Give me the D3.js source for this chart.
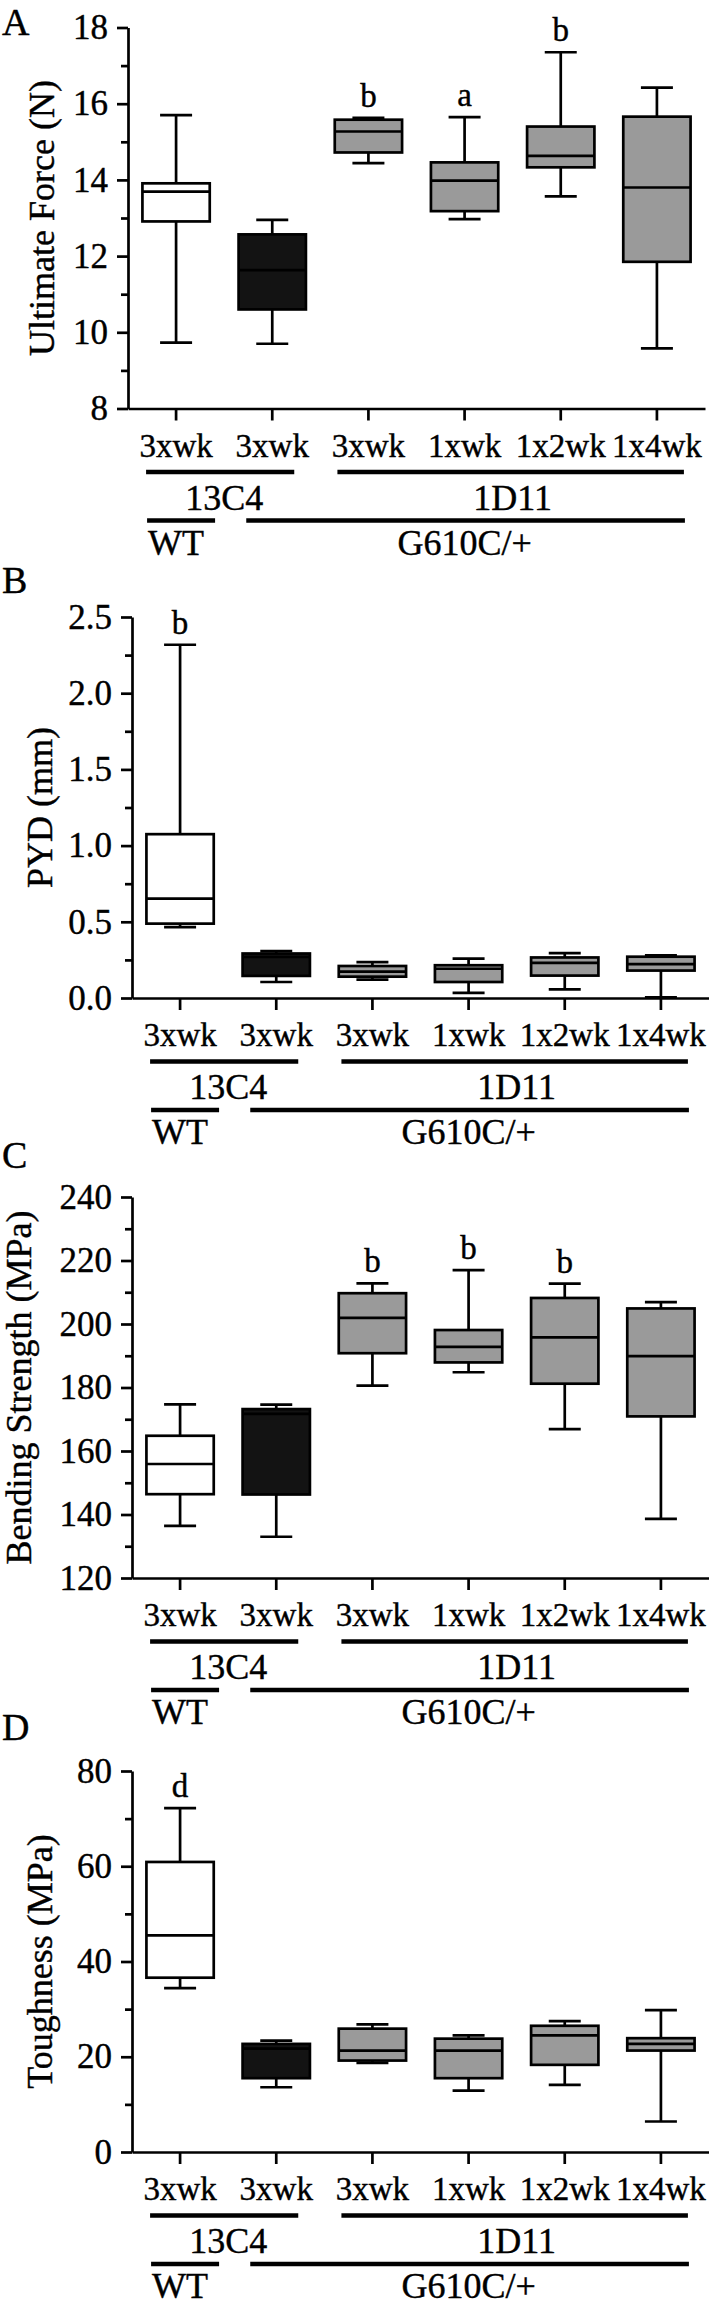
<!DOCTYPE html>
<html>
<head>
<meta charset="utf-8">
<script src="https://cdn.jsdelivr.net/npm/d3@7"></script>
<style>
  body { margin: 0; background: #fff; }
  svg { display: block; }
  svg text { stroke: #000; stroke-width: 0.4px; }
</style>
</head>
<body>
<svg id="chart" width="709" height="2308"></svg>
<script>
"use strict";
// groups along the x axis
const categories = ["3xwk", "3xwk", "3xwk", "1xwk", "1x2wk", "1x4wk"];
const antibody = ["13C4", "13C4", "1D11", "1D11", "1D11", "1D11"];
const genotype = ["WT", "G610C/+", "G610C/+", "G610C/+", "G610C/+", "G610C/+"];

// box stats per group: [min, q1, median, q3, max]
const forceStats = [
  [9.73, 12.91, 13.69, 13.91, 15.70],
  [9.70, 10.60, 11.63, 12.57, 12.95],
  [14.44, 14.72, 15.27, 15.58, 15.63],
  [12.97, 13.18, 13.98, 14.46, 15.65],
  [13.57, 14.33, 14.63, 15.40, 17.35],
  [9.58, 11.85, 13.80, 15.66, 16.42]
];
const forceLetters = ["", "", "b", "a", "b", ""];
const forceTicks = [8, 10, 12, 14, 16, 18];
const forceMinor = [9, 11, 13, 15, 17];

const pydStats = [
  [0.465, 0.488, 0.652, 1.075, 2.318],
  [0.105, 0.145, 0.269, 0.292, 0.308],
  [0.121, 0.140, 0.173, 0.210, 0.236],
  [0.033, 0.105, 0.192, 0.215, 0.259],
  [0.056, 0.147, 0.231, 0.266, 0.294],
  [0.005, 0.180, 0.222, 0.271, 0.280]
];
const pydLetters = ["b", "", "", "", "", ""];
const pydTicks = [0, 0.5, 1.0, 1.5, 2.0, 2.5];
const pydMinor = [0.25, 0.75, 1.25, 1.75, 2.25];

const strengthStats = [
  [136.4, 146.4, 155.9, 164.8, 174.7],
  [133.0, 146.3, 171.7, 173.2, 174.6],
  [180.6, 190.8, 201.9, 209.7, 212.8],
  [184.8, 187.9, 192.8, 198.1, 217.0],
  [166.9, 181.2, 195.8, 208.2, 212.7],
  [138.6, 170.9, 189.9, 204.9, 206.9]
];
const strengthLetters = ["", "", "b", "b", "b", ""];
const strengthTicks = [120, 140, 160, 180, 200, 220, 240];
const strengthMinor = [130, 150, 170, 190, 210, 230];

const toughStats = [
  [34.4, 36.6, 45.5, 60.9, 72.2],
  [13.6, 15.5, 21.7, 22.7, 23.4],
  [18.7, 19.2, 21.3, 25.9, 26.8],
  [12.9, 15.5, 21.3, 23.8, 24.5],
  [14.1, 18.3, 24.5, 26.5, 27.5],
  [6.4, 21.3, 22.7, 23.9, 29.8]
];
const toughLetters = ["d", "", "", "", "", ""];
const toughTicks = [0, 20, 40, 60, 80];
const toughMinor = [10, 30, 50, 70];

const FONT = "'Liberation Serif', 'Times New Roman', Times, serif";
const plotH = 381;
const LW = 2.7;

const panels = [
  { label: "A", title: "Ultimate Force (N)", stats: forceStats, letters: forceLetters,
    ticks: forceTicks, minor: forceMinor, fmt: d3.format("d"),
    top: 27.5, dx: -4, titleX: 54, labelY: 35 },
  { label: "B", title: "PYD (mm)", stats: pydStats, letters: pydLetters,
    ticks: pydTicks, minor: pydMinor, fmt: d3.format(".1f"),
    top: 617, dx: 0, titleX: 52, labelY: 593 },
  { label: "C", title: "Bending Strength (MPa)", stats: strengthStats, letters: strengthLetters,
    ticks: strengthTicks, minor: strengthMinor, fmt: d3.format("d"),
    top: 1197, dx: 0, titleX: 31, labelY: 1168 },
  { label: "D", title: "Toughness (MPa)", stats: toughStats, letters: toughLetters,
    ticks: toughTicks, minor: toughMinor, fmt: d3.format("d"),
    top: 1771, dx: 0, titleX: 52, labelY: 1740 }
];

const svg = d3.select("#chart");

function boxFill(i) {
  if (genotype[i] === "WT") return "#ffffff";
  if (antibody[i] === "13C4") return "#131313";
  return "#9a9a9a";
}

// runs of equal neighbours -> [{label, from, to}]
function runs(arr) {
  const out = [];
  arr.forEach((v, i) => {
    const last = out[out.length - 1];
    if (last && last.label === v) last.to = i;
    else out.push({ label: v, from: i, to: i });
  });
  return out;
}

function drawPanel(p) {
  const left = 132 + p.dx, right = 709 + p.dx;
  const y = d3.scaleLinear()
    .domain([p.ticks[0], p.ticks[p.ticks.length - 1]])
    .range([p.top + plotH, p.top]);
  const x = d3.scaleBand()
    .domain(d3.range(categories.length))
    .range([left, right])
    .paddingInner(0.3)
    .paddingOuter(0.15);
  const base = y.range()[0];
  const g = svg.append("g");

  // panel letter
  g.append("text")
    .attr("x", 2).attr("y", p.labelY)
    .attr("font-family", FONT).attr("font-size", 38)
    .text(p.label);

  // y axis title
  g.append("text")
    .attr("transform", `translate(${p.titleX},${(p.top + base) / 2}) rotate(-90)`)
    .attr("text-anchor", "middle")
    .attr("font-family", FONT).attr("font-size", 36)
    .text(p.title);

  // minor ticks
  g.append("g")
    .attr("transform", `translate(${left},0)`)
    .call(d3.axisLeft(y).tickValues(p.minor).tickFormat("").tickSize(7).tickSizeOuter(0))
    .call(a => a.select(".domain").remove())
    .call(a => a.selectAll("line").attr("stroke-width", LW));

  // y axis
  g.append("g")
    .attr("transform", `translate(${left},0)`)
    .call(d3.axisLeft(y).tickValues(p.ticks).tickFormat(p.fmt).tickSize(11).tickPadding(9).tickSizeOuter(0))
    .call(a => a.select(".domain").attr("stroke-width", LW))
    .call(a => a.selectAll("line").attr("stroke-width", LW))
    .call(a => a.selectAll("text")
      .attr("font-family", FONT).attr("font-size", 35).attr("fill", "#000"));

  // x axis
  g.append("g")
    .attr("transform", `translate(0,${base})`)
    .call(d3.axisBottom(x).tickFormat(i => categories[i]).tickSize(12).tickSizeOuter(0))
    .call(a => a.select(".domain").attr("stroke-width", LW))
    .call(a => a.selectAll("line").attr("stroke-width", LW))
    .call(a => a.selectAll("text")
      .attr("y", 48).attr("dy", 0)
      .attr("font-family", FONT).attr("font-size", 33).attr("fill", "#000"));

  // boxes
  const bw = x.bandwidth();
  const capW = 32;
  const boxes = g.selectAll(".box").data(p.stats).join("g").attr("class", "box");
  boxes.each(function (d, i) {
    const bx = d3.select(this);
    const cx = x(i) + bw / 2;
    const [mn, q1, med, q3, mx] = d;
    // whiskers
    bx.append("line").attr("x1", cx).attr("x2", cx).attr("y1", y(mx)).attr("y2", y(q3));
    bx.append("line").attr("x1", cx).attr("x2", cx).attr("y1", y(q1)).attr("y2", y(mn));
    bx.append("line").attr("x1", cx - capW / 2).attr("x2", cx + capW / 2).attr("y1", y(mx)).attr("y2", y(mx));
    bx.append("line").attr("x1", cx - capW / 2).attr("x2", cx + capW / 2).attr("y1", y(mn)).attr("y2", y(mn));
    bx.append("rect")
      .attr("x", x(i)).attr("width", bw)
      .attr("y", y(q3)).attr("height", y(q1) - y(q3))
      .attr("fill", boxFill(i));
    bx.append("line").attr("x1", x(i)).attr("x2", x(i) + bw).attr("y1", y(med)).attr("y2", y(med));
    bx.selectAll("line, rect").attr("stroke", "#000").attr("stroke-width", LW);
    if (p.letters[i]) {
      bx.append("text")
        .attr("x", cx).attr("y", y(mx) - 11)
        .attr("text-anchor", "middle")
        .attr("font-family", FONT).attr("font-size", 33)
        .text(p.letters[i]);
    }
  });

  // group bars under the axis
  const centre = i => x(i) + bw / 2;
  const antPads = { "13C4": [-30, 22], "1D11": [-31, 27] };
  const genPads = { "WT": [-29, 39], "G610C/+": [-26, 28] };
  runs(antibody).forEach(r => {
    g.append("line")
      .attr("x1", centre(r.from) + antPads[r.label][0])
      .attr("x2", centre(r.to) + antPads[r.label][1])
      .attr("y1", base + 63.5).attr("y2", base + 63.5)
      .attr("stroke", "#000").attr("stroke-width", 4.5);
    g.append("text")
      .attr("x", (centre(r.from) + centre(r.to)) / 2).attr("y", base + 101)
      .attr("text-anchor", "middle")
      .attr("font-family", FONT).attr("font-size", 36)
      .text(r.label);
  });
  runs(genotype).forEach(r => {
    g.append("line")
      .attr("x1", centre(r.from) + genPads[r.label][0])
      .attr("x2", centre(r.to) + genPads[r.label][1])
      .attr("y1", base + 112).attr("y2", base + 112)
      .attr("stroke", "#000").attr("stroke-width", 4.5);
    g.append("text")
      .attr("x", (centre(r.from) + centre(r.to)) / 2).attr("y", base + 146)
      .attr("text-anchor", "middle")
      .attr("font-family", FONT).attr("font-size", 36)
      .text(r.label);
  });
}

panels.forEach(drawPanel);
</script>
</body>
</html>
